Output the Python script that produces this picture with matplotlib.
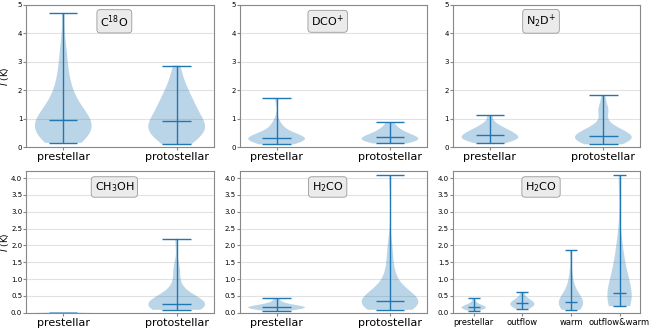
import matplotlib
matplotlib.use('Agg')
import matplotlib.pyplot as plt
import numpy as np

# peak intensities I (K) per source group
c18o_pre = [0.15, 0.18, 0.23, 0.28, 0.33, 0.37, 0.40, 0.44, 0.47, 0.50,
            0.53, 0.59, 0.62, 0.65, 0.69, 0.72, 0.75, 0.79, 0.82, 0.88,
            0.93, 0.97, 1.00, 1.04, 1.09, 1.14, 1.20, 1.26, 1.33, 1.41,
            1.50, 1.60, 1.74, 1.90, 2.00, 2.16, 2.39, 2.62, 2.90, 3.30,
            3.60, 4.72]
c18o_proto = [0.10, 0.14, 0.20, 0.26, 0.32, 0.39, 0.44, 0.49, 0.54, 0.58,
              0.63, 0.66, 0.70, 0.74, 0.77, 0.80, 0.84, 0.88, 0.92, 1.02,
              1.08, 1.14, 1.20, 1.27, 1.34, 1.41, 1.48, 1.54, 1.62, 1.71,
              1.81, 1.92, 2.03, 2.16, 2.33, 2.58, 2.87]
dco_pre = [0.10, 0.13, 0.16, 0.18, 0.20, 0.22, 0.24, 0.25, 0.26, 0.27,
           0.28, 0.29, 0.30, 0.31, 0.32, 0.33, 0.35, 0.37, 0.39, 0.42,
           0.45, 0.49, 0.54, 0.60, 0.68, 0.78, 0.92, 1.73]
dco_proto = [0.13, 0.15, 0.17, 0.19, 0.21, 0.23, 0.25, 0.27, 0.29, 0.31,
             0.33, 0.35, 0.37, 0.39, 0.41, 0.44, 0.47, 0.51, 0.55, 0.60,
             0.66, 0.74, 0.87]
n2d_pre = [0.14, 0.17, 0.20, 0.23, 0.26, 0.28, 0.30, 0.32, 0.34, 0.36,
           0.38, 0.42, 0.44, 0.47, 0.50, 0.53, 0.56, 0.60, 0.64, 0.69,
           0.75, 0.85, 1.13]
n2d_proto = [0.10, 0.13, 0.16, 0.19, 0.22, 0.24, 0.26, 0.28, 0.30, 0.32,
             0.34, 0.36, 0.38, 0.41, 0.43, 0.46, 0.49, 0.53, 0.57, 0.62,
             0.68, 0.78, 1.22, 1.30, 1.38, 1.83]
ch3oh_pre = [0.0, 0.0, 0.01]
ch3oh_proto = [0.09, 0.11, 0.13, 0.15, 0.16, 0.17, 0.18, 0.19, 0.20, 0.21,
               0.22, 0.23, 0.24, 0.27, 0.28, 0.30, 0.32, 0.35, 0.38, 0.42,
               0.47, 0.55, 0.68, 0.90, 1.25, 1.35, 2.20]
h2co_pre = [0.06, 0.08, 0.10, 0.12, 0.13, 0.14, 0.15, 0.16, 0.17, 0.18,
            0.19, 0.20, 0.22, 0.24, 0.27, 0.32, 0.43]
h2co_outflow = [0.12, 0.15, 0.18, 0.21, 0.24, 0.26, 0.28, 0.30, 0.33, 0.36,
                0.40, 0.46, 0.62]
h2co_warm = [0.09, 0.12, 0.15, 0.18, 0.20, 0.22, 0.24, 0.26, 0.28, 0.31,
             0.33, 0.36, 0.40, 0.44, 0.49, 0.56, 0.65, 0.76, 0.92, 1.20, 1.85]
h2co_both = [0.20, 0.21, 0.23, 0.25, 0.28, 0.31, 0.35, 0.40, 0.45, 0.52,
             0.60, 0.70, 0.80, 0.92, 1.05, 1.20, 1.38, 1.58, 1.82, 2.15, 4.08]
h2co_proto = h2co_outflow + h2co_warm + h2co_both

two_groups = ['prestellar', 'protostellar']
four_groups = ['prestellar', 'outflow', 'warm', 'outflow&warm']

panels = [
    ('C$^{18}$O', [c18o_pre, c18o_proto], two_groups),
    ('DCO$^{+}$', [dco_pre, dco_proto], two_groups),
    ('N$_2$D$^{+}$', [n2d_pre, n2d_proto], two_groups),
    ('CH$_3$OH', [ch3oh_pre, ch3oh_proto], two_groups),
    ('H$_2$CO', [h2co_pre, h2co_proto], two_groups),
    ('H$_2$CO', [h2co_pre, h2co_outflow, h2co_warm, h2co_both], four_groups),
]

fig, axes = plt.subplots(2, 3, figsize=(6.6, 3.3), dpi=100)
fig.subplots_adjust(left=0.04, right=0.97, top=0.985, bottom=0.052,
                    wspace=0.14, hspace=0.165)

for i, (ax, (name, groups, labels)) in enumerate(zip(axes.flat, panels)):
    pos = np.arange(1, len(groups) + 1)
    parts = ax.violinplot(groups, positions=pos, showmedians=True)
    for key in ['cbars', 'cmins', 'cmaxes', 'cmedians']:
        parts[key].set_linewidth(1.0)
    ax.set_xticks(pos)
    if len(labels) == 4:
        ax.set_xticklabels(labels, fontsize=6)
    else:
        ax.set_xticklabels(labels, fontsize=8)
    ax.tick_params(axis='x', length=2.5, pad=1, color='#888888')
    ax.tick_params(axis='y', labelsize=5, length=2, pad=1, color='#888888')
    if i < 3:
        ax.set_ylim(0, 5)
        ax.set_yticks(np.arange(0, 6, 1))
    else:
        ax.set_ylim(0, 4.22)
        ax.set_yticks(np.arange(0, 4.01, 0.5))
    ax.yaxis.grid(True, color='#e2e2e2', linestyle='-', linewidth=0.8)
    ax.set_axisbelow(True)
    for sp in ax.spines.values():
        sp.set_color('#888888')
        sp.set_linewidth(0.8)
    ax.text(0.47, 0.885, name, transform=ax.transAxes, ha='center',
            va='center', fontsize=8,
            bbox=dict(boxstyle='round,pad=0.3', facecolor='#ebebeb',
                      edgecolor='#999999', linewidth=0.6))
    if i % 3 == 0:
        ax.set_ylabel('$I$ (K)', fontsize=6.5)
        ax.yaxis.set_label_coords(-0.083, 0.5)

plt.savefig('out.png')
